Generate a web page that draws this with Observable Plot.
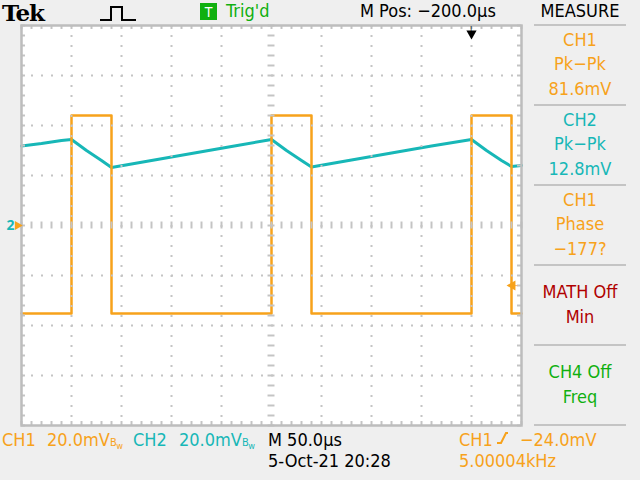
<!DOCTYPE html>
<html><head><meta charset="utf-8">
<script src="https://cdn.jsdelivr.net/npm/d3@7"></script>
<script src="https://cdn.jsdelivr.net/npm/@observablehq/plot@0.6"></script>
<style>
body{margin:0;background:#efefef;}
#wrap{position:relative;width:640px;height:480px;overflow:hidden;font-family:"DejaVu Sans Condensed","DejaVu Sans",sans-serif;}
#wrap svg{position:absolute;left:0;top:0;}
.t{position:absolute;white-space:nowrap;font-size:18px;line-height:1;}
.c{transform:translateX(-50%);}
.sep{position:absolute;left:534px;width:92px;height:2px;background:#c4c4c4;}
.bw{font-size:11px;letter-spacing:-0.5px;}
</style></head><body><div id="wrap"></div>
<script>
// ---- data (time in µs from left edge of screen, voltage in mV) ----
const ch1Time = [0, 50, 50, 90, 90, 250, 250, 290, 290, 450, 450, 490, 490, 500];
const ch1mV   = [-35.2, -35.2, 44, 44, -35.2, -35.2, 44, 44, -35.2, -35.2, 44, 44, -35.2, -35.2];
const ch2Time = [0, 20, 40, 50, 65, 80, 90, 130, 170, 210, 250, 265, 280, 290, 330, 370, 410, 450, 465, 480, 490, 500];
const ch2mV   = [31.8, 32.8, 34, 34.4, 30, 26, 23.2, 26, 28.8, 31.6, 34.4, 30, 26, 23.4, 26.2, 29, 31.8, 34.4, 30, 26, 23.6, 24];
const ch2Ground = [0];
const trigLevel = [-24];
const trigTime = [450];

const headerTexts = ["Tek", "Trig'd", "M Pos: −200.0µs", "MEASURE"];
const measureLabels = [
  ["CH1", "Pk−Pk", "81.6mV"],
  ["CH2", "Pk−Pk", "12.8mV"],
  ["CH1", "Phase", "−177?"],
  ["MATH Off", "Min"],
  ["CH4 Off", "Freq"]
];
const footerTexts = ["CH1", "20.0mV", "CH2", "20.0mV", "M 50.0µs", "5-Oct-21 20:28", "CH1", "−24.0mV", "5.00004kHz"];

const ORANGE = "#f7a21b", TEAL = "#17b7b7", GREEN = "#10b010", DARKRED = "#b00000", GRID = "#c4c4c4";
const measureColors = [ORANGE, TEAL, ORANGE, DARKRED, GREEN];

const ch1 = ch1Time.map((t, i) => ({t, v: ch1mV[i]}));
const ch2 = ch2Time.map((t, i) => ({t, v: ch2mV[i]}));

// graticule structure
const divX = d3.range(50, 500, 50).filter(d => d !== 250);
const divY = d3.range(-60, 61, 20).filter(d => d !== 0);
const minorX = d3.range(0, 501, 10);
const minorY = d3.range(-80, 81, 4);

const chart = Plot.plot({
  width: 640, height: 480,
  marginLeft: 21, marginRight: 119, marginTop: 25, marginBottom: 55,
  x: {domain: [0, 500], axis: null},
  y: {domain: [-80, 80], axis: null},
  style: {background: "transparent", overflow: "visible"},
  marks: [
    Plot.frame({fill: "white", stroke: null}),
    Plot.line(ch2, {x: "t", y: "v", stroke: TEAL, strokeWidth: 3, strokeLinejoin: "round"}),
    Plot.line(ch1, {x: "t", y: "v", stroke: ORANGE, strokeWidth: 2.5}),
    Plot.ruleY(divY, {stroke: GRID, strokeWidth: 2, strokeDasharray: "2,8"}),
    Plot.ruleX(divX, {stroke: GRID, strokeWidth: 2, strokeDasharray: "2,8"}),
    Plot.ruleX(minorX, {x: d => d, y1: -1.4, y2: 1.4, stroke: GRID, strokeWidth: 2}),
    Plot.ruleY(minorY, {y: d => d, x1: 246.5, x2: 253.5, stroke: GRID, strokeWidth: 2}),
    Plot.ruleX(minorX, {x: d => d, y1: 80, y2: 78.4, stroke: GRID, strokeWidth: 2}),
    Plot.ruleX(minorX, {x: d => d, y1: -80, y2: -78.4, stroke: GRID, strokeWidth: 2}),
    Plot.ruleY(minorY, {y: d => d, x1: 0, x2: 4, stroke: GRID, strokeWidth: 2}),
    Plot.ruleY(minorY, {y: d => d, x1: 496, x2: 500, stroke: GRID, strokeWidth: 2}),
    Plot.frame({stroke: "#bdbdbd", strokeWidth: 2.5}),
    // CH2 ground marker
    Plot.text(ch2Ground, {y: d => d, frameAnchor: "left", text: () => "2", dx: -15, fill: TEAL, fontSize: 14, fontWeight: "bold"}),
    Plot.dot(ch2Ground, {y: d => d, frameAnchor: "left", symbol: "triangle", rotate: 90, r: 3.4, dx: -4, fill: ORANGE, stroke: null}),
    // trigger level marker
    Plot.dot(trigLevel, {y: d => d, frameAnchor: "right", symbol: "triangle", rotate: -90, r: 3.8, dx: -9, fill: ORANGE, stroke: null}),
    Plot.text(trigLevel, {y: d => d, frameAnchor: "right", text: () => "─", dx: -4, fill: ORANGE, fontSize: 10, fontWeight: "bold"}),
    // trigger position marker
    Plot.dot(trigTime, {x: d => d, frameAnchor: "top", symbol: "triangle", rotate: 180, r: 3.8, dy: 8, fill: "black", stroke: null}),
    Plot.text(trigTime, {x: d => d, frameAnchor: "top", text: () => "│", dy: 2, fill: "black", fontSize: 9, fontWeight: "bold"})
  ]
});

const wrap = document.getElementById("wrap");
wrap.appendChild(chart);

function addText(txt, x, y, color, extra = "", cls = "t") {
  const d = document.createElement("div");
  d.className = cls;
  d.style.left = x + "px";
  d.style.top = y + "px";
  d.style.color = color;
  if (extra) d.style.cssText += extra;
  d.innerHTML = txt;
  wrap.appendChild(d);
  return d;
}

// header
addText(headerTexts[0], 2, 1, "black", "font-family:'DejaVu Serif',serif;font-weight:bold;font-size:23px;letter-spacing:-1px;");
const icons = document.createElementNS("http://www.w3.org/2000/svg", "svg");
icons.setAttribute("width", 640); icons.setAttribute("height", 30);
icons.style.cssText = "position:absolute;left:0;top:0;";
icons.innerHTML = `<polyline points="100,20 111,20 111,7 122,7 122,20 136,20" fill="none" stroke="black" stroke-width="2"/>
<rect x="200" y="3" width="17" height="17" fill="${GREEN}"/>
<text x="208.5" y="17" text-anchor="middle" fill="white" font-size="14" font-family="DejaVu Sans Condensed">T</text>`;
wrap.appendChild(icons);
addText(headerTexts[1], 226, 2, GREEN);
addText(headerTexts[2], 360, 2, "black");
addText(headerTexts[3], 580, 2, "black", "", "t c");

// measure panel
[25, 105, 185, 265, 345, 425].forEach(y => {
  const s = document.createElement("div"); s.className = "sep"; s.style.top = (y - 1) + "px"; wrap.appendChild(s);
});
measureLabels.forEach((lines, i) => {
  const top = 25 + i * 80;
  const offs = lines.length === 3 ? [6, 30, 55] : [18, 43];
  lines.forEach((ln, j) => addText(ln, 580, top + offs[j], measureColors[i], "", "t c"));
});

// footer
addText(footerTexts[0], 2, 431, ORANGE);
addText(footerTexts[1] + '<span class="bw">B<sub>w</sub></span>', 47, 431, ORANGE);
addText(footerTexts[2], 133, 431, TEAL);
addText(footerTexts[3] + '<span class="bw">B<sub>w</sub></span>', 179, 431, TEAL);
addText(footerTexts[4], 268, 431, "black");
addText(footerTexts[5], 268, 452, "black");
addText(footerTexts[6], 459, 431, ORANGE);
addText('<svg width="12" height="14" style="vertical-align:-2px"><polyline points="1,12 5,12 10,2 12,2" fill="none" stroke="' + ORANGE + '" stroke-width="2"/></svg>', 496, 431, ORANGE);
addText(footerTexts[7], 520, 431, ORANGE);
addText(footerTexts[8], 459, 452, ORANGE);
</script></body></html>
